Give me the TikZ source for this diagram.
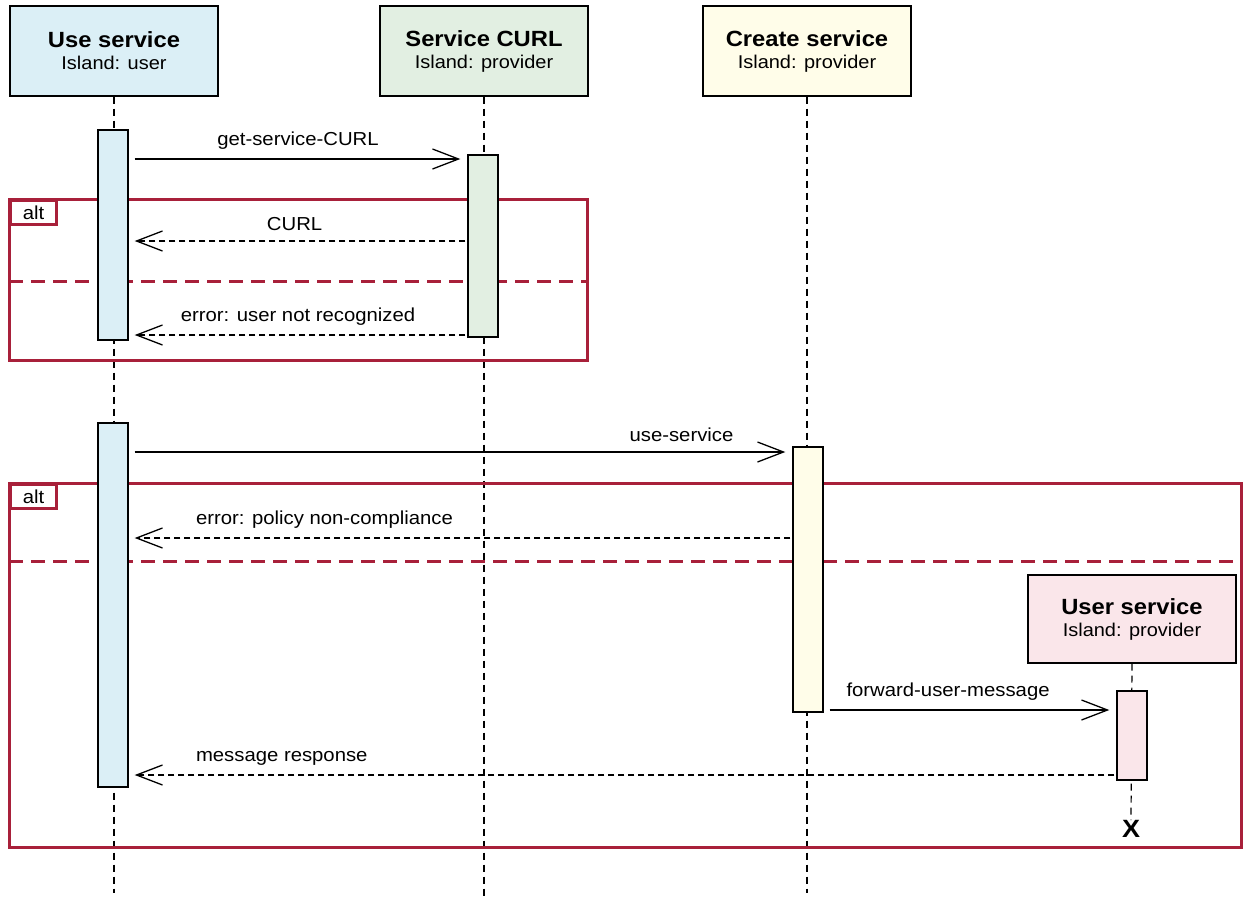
\documentclass[tikz,border=0pt]{standalone}
\usepackage{fontspec}
\setmainfont{Liberation Sans}[FakeStretch=1.08]
\usetikzlibrary{arrows.meta}
\definecolor{altred}{HTML}{A8203A}
\definecolor{blueA}{HTML}{DBEFF6}
\definecolor{greenA}{HTML}{E2EFE2}
\definecolor{yellowA}{HTML}{FFFDE9}
\definecolor{pinkA}{HTML}{FAE6EA}
\newcommand{\Head}[2]{{\fontsize{22}{24}\selectfont\bfseries #1}\\{\fontsize{18.5}{22}\selectfont #2}}

\begin{document}
\begin{tikzpicture}[x=1pt, y=-1pt,
    every node/.style={font=\fontsize{18.8}{22}\selectfont},
    head/.style={draw, line width=1.4pt, minimum width=208pt, minimum height=90pt, align=center, inner sep=0pt},
    act/.style={draw, line width=1.4pt, minimum width=30pt, inner sep=0pt},
    lifeline/.style={line width=1.2pt, dash pattern=on 7pt off 5pt},
    msg/.style={-{Straight Barb[length=26pt, width=20pt]}, line width=1.3pt, shorten <=6pt, shorten >=7pt},
    reply/.style={msg, dash pattern=on 6pt off 4pt, shorten <=2pt, shorten >=6pt},
    frame/.style={draw=altred, line width=3pt},
    divider/.style={draw=altred, line width=3pt, dash pattern=on 14pt off 8pt}
]
\useasboundingbox (0,0) rectangle (1243,898);

\node[head, fill=blueA]   (usesvc)    at (114,51)  {\Head{Use service}{Island: user}};
\node[head, fill=greenA]  (svccurl)   at (484,51)  {\Head{Service CURL}{Island: provider}};
\node[head, fill=yellowA] (createsvc) at (807,51)  {\Head{Create service}{Island: provider}};
\node[head, fill=pinkA, minimum height=88pt] (usersvc) at (1132,619) {\Head{User service}{Island: provider}};
\node[font=\fontsize{25}{25}\selectfont\bfseries, inner sep=0pt] (endx) at (1131,829) {X};

\foreach \n/\yend in {usesvc/893, svccurl/898, createsvc/893}
    \draw[lifeline] (\n.south) -- (\n.south |- 0,\yend);
\draw[lifeline] (usersvc.south) -- (endx.north);

\foreach \ya/\yb/\yc/\xr [count=\i] in {199/281/360/587, 483/561/847/1241} {
    \draw[frame] (9,\ya) rectangle (\xr,\yc);
    \draw[divider] (9,\yb) -- (\xr,\yb);
    \node[frame, draw, fill=white, anchor=north west, minimum width=46pt, minimum height=24pt, inner sep=0pt] (alt\i) at (9,\ya) {alt};
}

\node[act, fill=blueA,   minimum height=210pt] (useA)    at (113,235)   {};
\node[act, fill=greenA,  minimum height=182pt] (curlA)   at (483,246)   {};
\node[act, fill=blueA,   minimum height=364pt] (useB)    at (113,605)   {};
\node[act, fill=yellowA, minimum height=265pt] (createA) at (808,579.5) {};
\node[act, fill=pinkA,   minimum height=89pt]  (userA)   at (1132,735.5) {};

\draw[msg]   (useA.east |- 0,159)    -- (curlA.west |- 0,159)   node[above=6pt, pos=.5]  {get-service-CURL};
\draw[reply] (curlA.west |- 0,241)   -- (useA.east |- 0,241)    node[above=6pt, pos=.51] {CURL};
\draw[reply] (curlA.west |- 0,335)   -- (useA.east |- 0,335)    node[above=6pt, pos=.5]  {error: user not recognized};
\draw[msg]   (useB.east |- 0,452)    -- (createA.west |- 0,452) node[above=6pt, pos=.833] {use-service};
\draw[reply] (createA.west |- 0,538) -- (useB.east |- 0,538)    node[above=6pt, pos=.705] {error: policy non-compliance};
\draw[msg]   (createA.east |- 0,710) -- (userA.west |- 0,710)   node[above=6pt, pos=.425] {forward-user-message};
\draw[reply] (userA.west |- 0,775)   -- (useB.east |- 0,775)    node[above=6pt, pos=.845] {message response};

\end{tikzpicture}
\end{document}
